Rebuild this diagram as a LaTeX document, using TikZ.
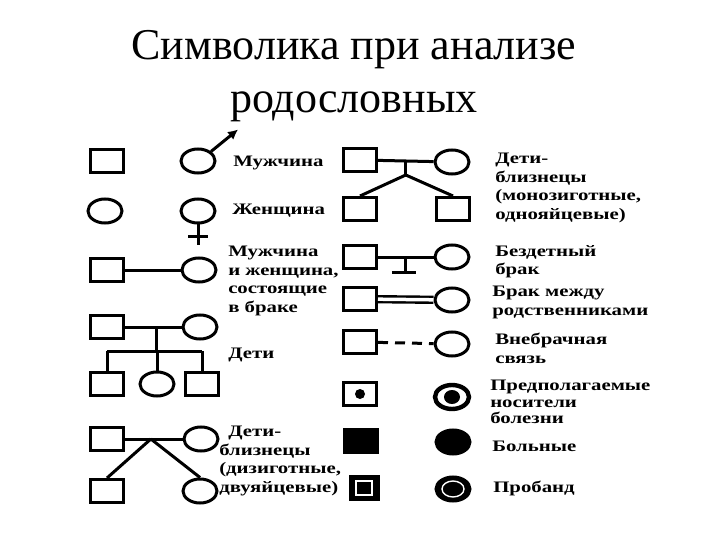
\documentclass[tikz,border=0pt]{standalone}
\usepackage{fontspec}
\setmainfont{Liberation Serif}
\usetikzlibrary{shapes.geometric,arrows.meta,calc}

\tikzset{
  male/.style={draw, line width=3pt, minimum width=33pt, minimum height=23pt, inner sep=0pt},
  female/.style={draw, ellipse, line width=3pt, minimum width=34pt, minimum height=24pt, inner sep=0pt},
  link/.style={line width=3pt},
  lbl/.style={font=\bfseries\fontsize{16}{18.5}\selectfont, align=left, anchor=north west, xscale=1.3, inner sep=0pt},
}

\begin{document}
\begin{tikzpicture}[x=1pt, y=-1pt]
  \useasboundingbox (0,0) rectangle (720,540);
  % title
  \node (title) at (354,75) {\fontsize{44}{53}\selectfont\begin{tabular}{c}Символика при анализе\\родословных\end{tabular}};

  % left column
  \node[male] (sq1) at (107,161) {};
  \node[female] (ml) at (198,161) {};
  \draw[link, -{Latex[length=10pt,width=10pt]}] (ml.north east) -- ++(27,-22) coordinate (mlarr);
  \node[lbl, anchor=west] (t1) at (233,163) {Мужчина};

  \node[female] (ci1) at (105,211) {};
  \node[female] (fl) at (198,211) {};
  \draw[link] (fl.south) -- ++(0,20) coordinate (flend);
  \draw[link] ($(flend)+(-10,-8)$) -- ++(20,0);
  \node[lbl, anchor=west] (t2) at (232,211) {Женщина};

  \node[male] (hb) at (107,270) {};
  \node[female] (wf) at (199,270) {};
  \draw[link] (hb) -- (wf);
  \node[lbl] (t3) at (228,246) {Мужчина\\и женщина,\\состоящие\\в браке};

  \node[male] (fa) at (107,327) {};
  \node[female] (mo) at (200,327) {};
  \draw[link] (fa) -- coordinate[pos=0.55] (fm) (mo);
  \draw[link] (fm) -- ++(0,24) coordinate (sib);
  \node[male] (ch1) at (107,384) {};
  \node[female] (ch2) at (157,384) {};
  \node[male] (ch3) at (202,384) {};
  \draw[link] (ch1 |- sib) -- (ch3 |- sib);
  \draw[link] (ch1 |- sib) -- (ch1.north);
  \draw[link] (ch2 |- sib) -- (ch2.north);
  \draw[link] (ch3 |- sib) -- (ch3.north);
  \node[lbl, anchor=west] (t4) at (228,355) {Дети};

  \node[male] (dfa) at (107,439) {};
  \node[female] (dmo) at (201,439) {};
  \draw[link] (dfa) -- coordinate[pos=0.45] (dm) (dmo);
  \node[male] (dt1) at (107,491) {};
  \node[female] (dt2) at (200,491) {};
  \draw[link] (dm) -- (dt1.north);
  \draw[link] (dm) -- (dt2.north);
  \node[lbl] (t5) at (219,426) {\hspace*{7pt}Дети-\\близнецы\\(дизиготные,\\двуяйцевые)};

  % right column
  \node[male] (mfa) at (360,160) {};
  \node[female] (mmo) at (452,162) {};
  \draw[link] (mfa) -- coordinate[pos=0.5] (mm) (mmo);
  \draw[link] (mm) -- ++(0,14) coordinate (mtw);
  \node[male] (mt1) at (360,209) {};
  \node[male] (mt2) at (453,209) {};
  \draw[link] (mtw) -- (mt1.north);
  \draw[link] (mtw) -- (mt2.north);
  \node[lbl] (t6) at (495,153) {Дети-\\близнецы\\(монозиготные,\\однояйцевые)};

  \node[male] (nfa) at (360,257) {};
  \node[female] (nmo) at (452,257) {};
  \draw[link] (nfa) -- coordinate[pos=0.5] (nm) (nmo);
  \draw[link] (nm) -- ++(0,14) coordinate (nend);
  \draw[link] ($(nend)+(-14,1)$) -- ++(24,0);
  \node[lbl] (t7) at (495,245) {Бездетный\\брак};

  \node[male] (rfa) at (360,299) {};
  \node[female] (rmo) at (452,300) {};
  \draw[line width=2.4pt, double distance=3.5pt] (rfa) -- (rmo);
  \node[lbl] (t8) at (492,286) {Брак между\\родственниками};

  \node[male] (efa) at (360,342) {};
  \node[female] (emo) at (452,344) {};
  \draw[link, dash pattern=on 10pt off 7pt] (efa) -- (emo);
  \node[lbl] (t9) at (495,333) {Внебрачная\\связь};

  \node[male, line width=3.6pt] (cfa) at (360,394) {};
  \fill (cfa) circle (5);
  \node[female, line width=4.4pt] (cmo) at (452,397) {};
  \fill (cmo) ellipse (8 and 7);
  \node[lbl, font=\bfseries\fontsize{16}{16.5}\selectfont] (t10) at (490,380) {Предполагаемые\\носители\\болезни};

  \node[male, fill] (afa) at (361,441) {};
  \node[female, fill] (amo) at (453,442) {};
  \node[lbl, anchor=west] (t11) at (492,446) {Больные};

  \node[male, fill, minimum width=28pt] (pfa) at (364,488) {};
  \draw[white, line width=1.4pt] ($(pfa.center)+(-8,-7)$) rectangle ($(pfa.center)+(8,7)$);
  \node[female, fill] (pmo) at (453,489) {};
  \draw[white, line width=1.4pt] (pmo) ellipse (11 and 8);
  \node[lbl, anchor=west] (t12) at (493,488) {Пробанд};
\end{tikzpicture}
\end{document}
